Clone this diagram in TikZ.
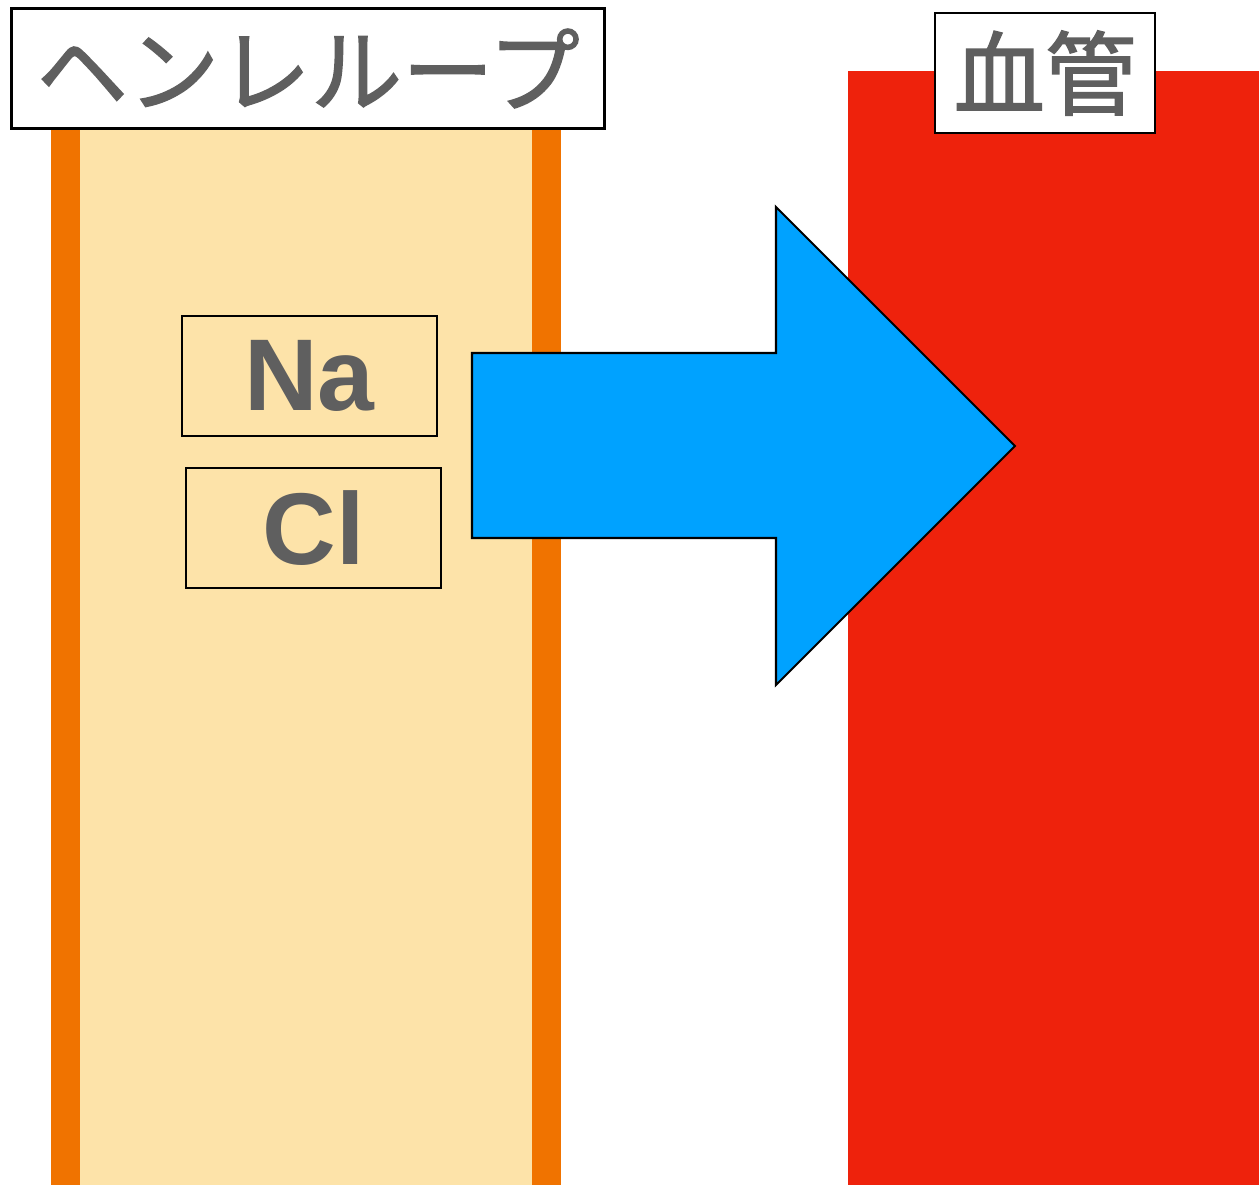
\documentclass[tikz,border=0pt]{standalone}
\usepackage{fontspec}
\usepackage{tikz}
\usetikzlibrary{positioning}
\newfontfamily\jpfont[FakeBold=1.5]{Noto Sans CJK JP}
\setsansfont{Liberation Sans}
\definecolor{LoopWall}{RGB}{240,115,0}
\definecolor{LoopFill}{RGB}{253,227,169}
\definecolor{VesselRed}{RGB}{238,34,12}
\definecolor{FlowBlue}{RGB}{0,162,255}
\definecolor{TextGray}{RGB}{95,95,95}
\begin{document}
\begin{tikzpicture}[x=0.01cm,y=-0.01cm,
        title/.style={draw=black,fill=white,line width=0.8pt,inner sep=0pt,
                      font=\jpfont\fontsize{26pt}{30pt}\selectfont,
                      text=TextGray,minimum height=1.2cm},
        ion/.style={draw=black,line width=0.8pt,inner sep=0pt,
                    font=\sffamily\bfseries\fontsize{29pt}{34pt}\selectfont,
                    text=TextGray,minimum width=2.55cm,minimum height=1.2cm},
        flow/.style={draw=black,line width=0.6pt,fill=FlowBlue}
      ]
        \useasboundingbox (0,0) rectangle (1259,1185);
        \fill[LoopWall] (51,128) rectangle (561,1185);
        \fill[LoopFill] (80,128) rectangle (532,1185);
        \fill[VesselRed] (848,71) rectangle (1259,1185);
        \node[ion] (na) at (309.5,376) {Na};
        \node[ion] (cl) at (313.5,528) {Cl};
        \draw[flow] (472,353) -- (776,353) -- (776,207) -- (1015,446)
          -- (776,685) -- (776,538) -- (472,538) -- cycle;
        \node[title,minimum width=5.92cm] (loop) at (308,68.5) {ヘンレループ};
        \node[title,minimum width=2.2cm] (vessel) at (1045,73) {血管};
      \end{tikzpicture}
\end{document}
